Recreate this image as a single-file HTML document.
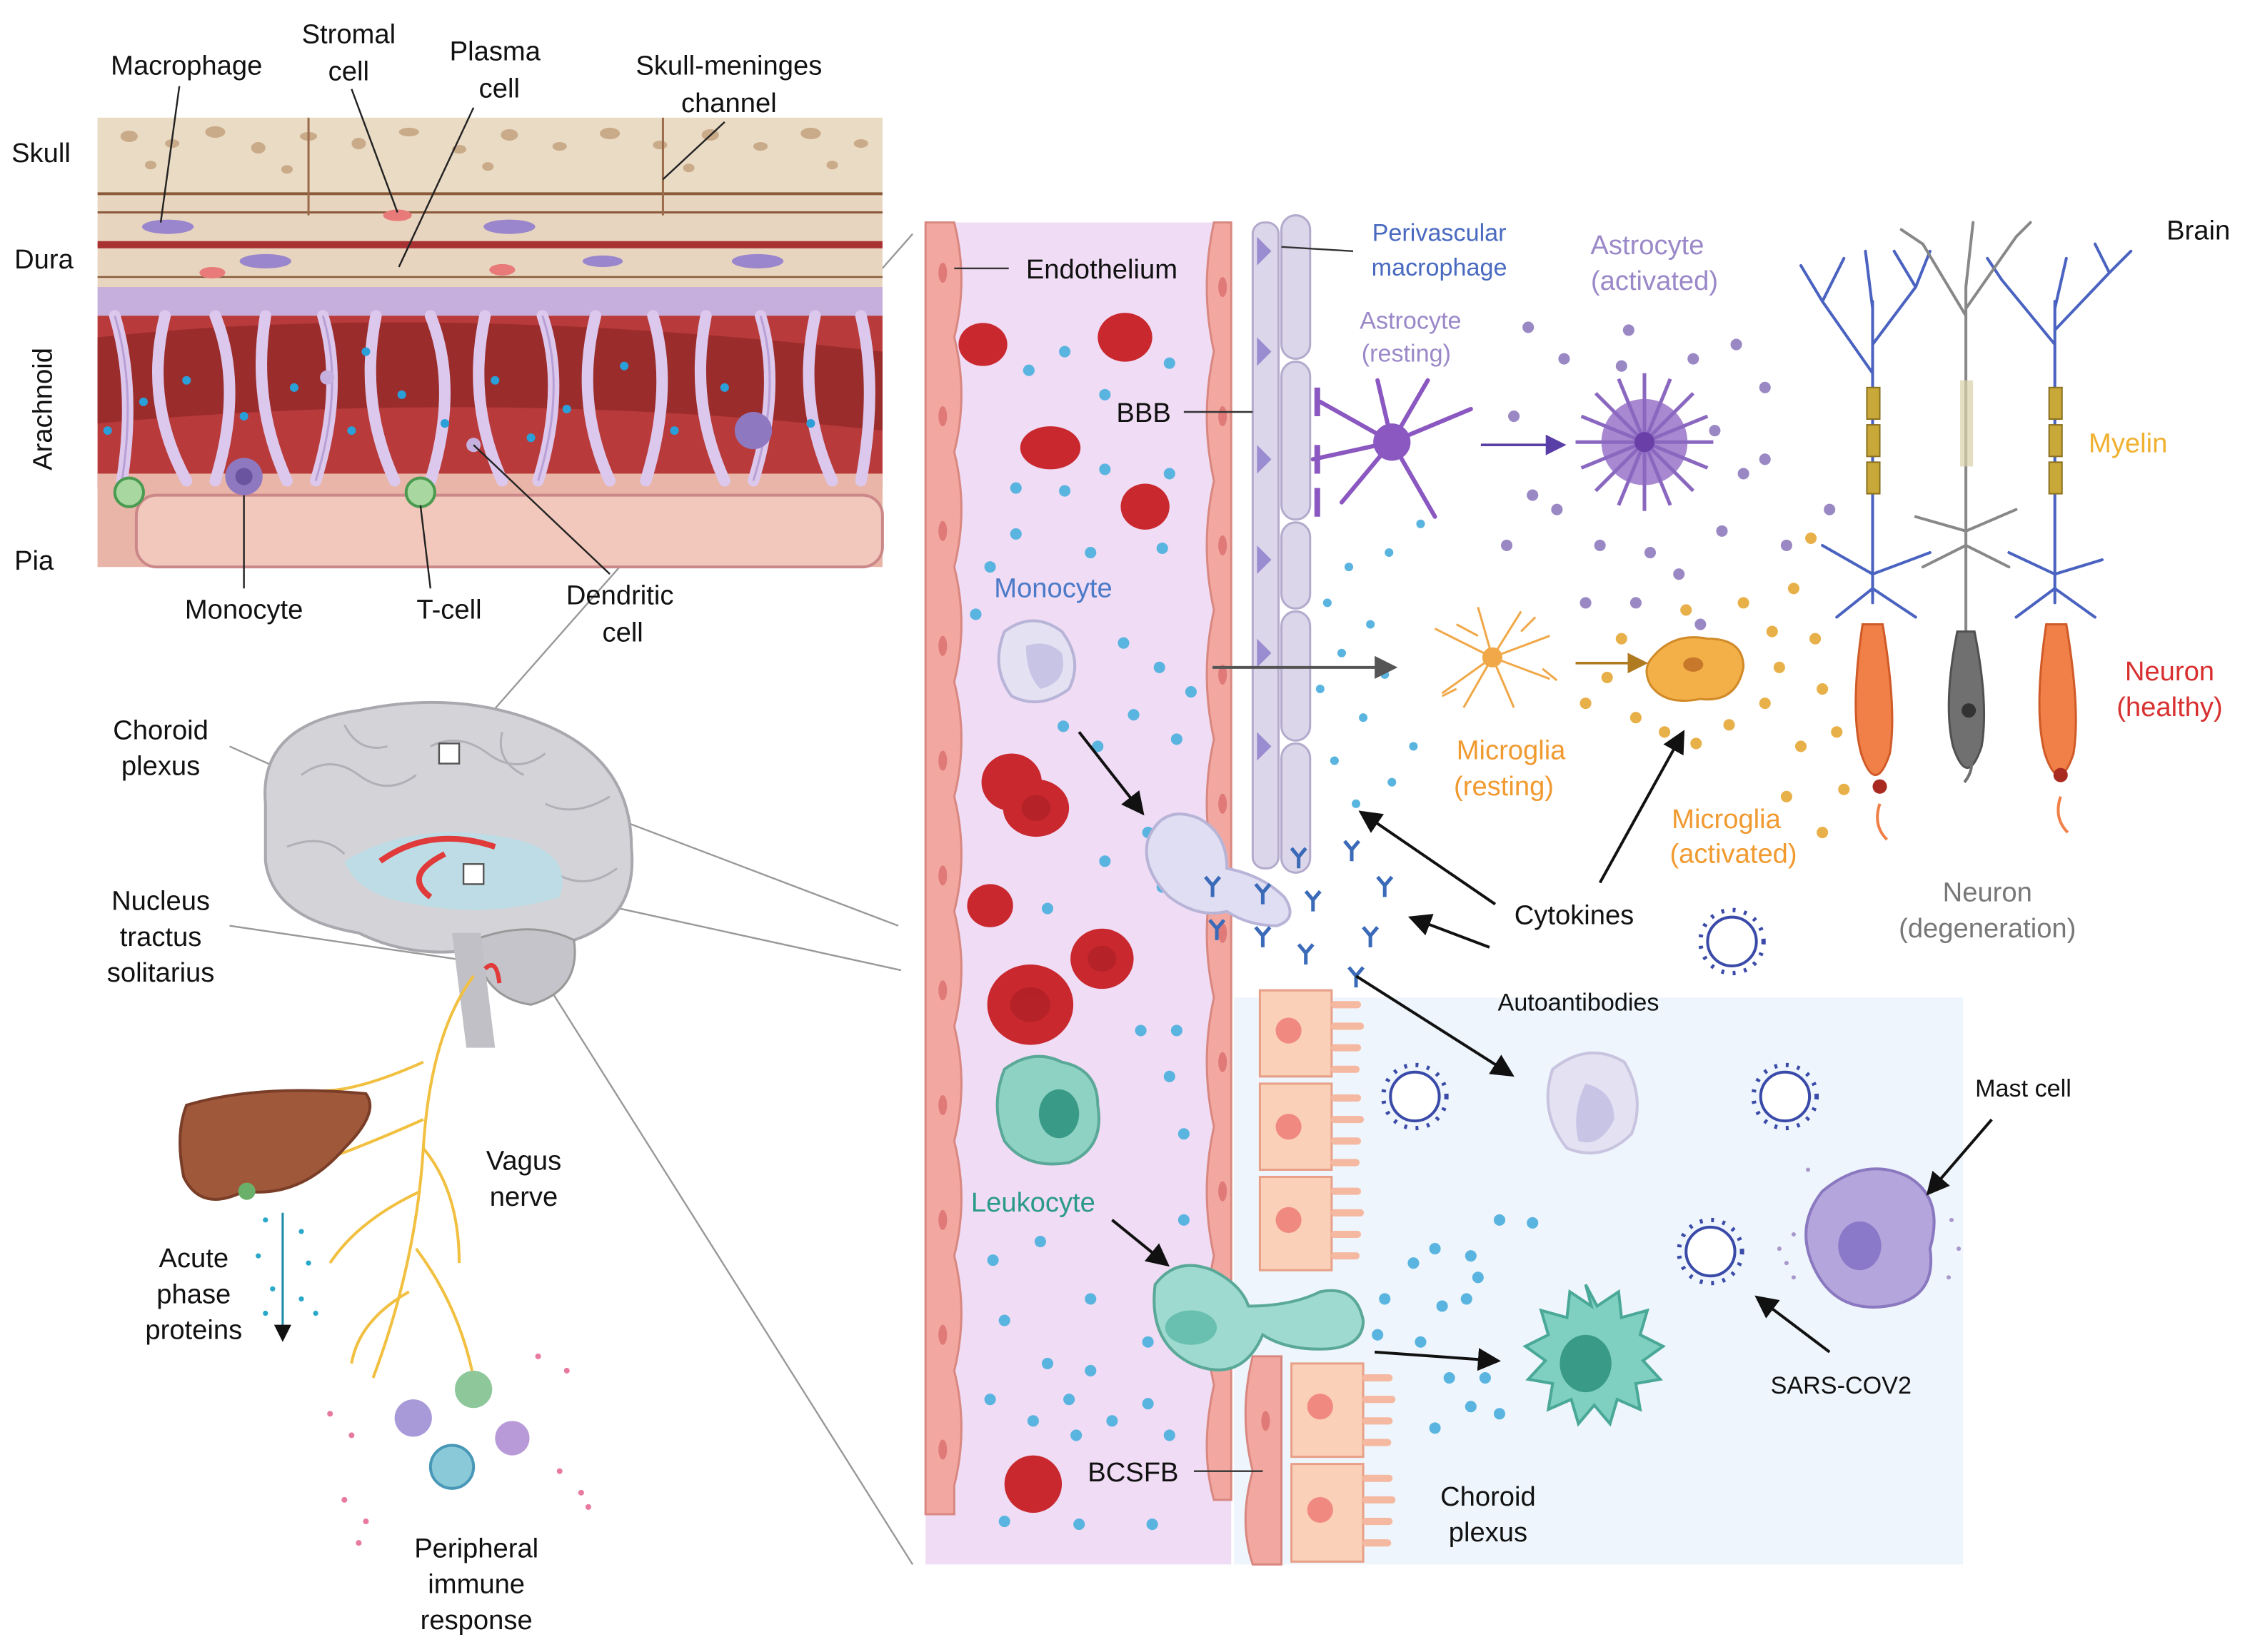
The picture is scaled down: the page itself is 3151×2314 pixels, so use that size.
<!DOCTYPE html>
<html><head><meta charset="utf-8"><style>
html,body{margin:0;padding:0;background:#fff;}
svg{display:block;}
text{font-family:"Liberation Sans",sans-serif;}
</style></head><body>
<svg width="3151" height="2314" viewBox="0 0 1568 1151" preserveAspectRatio="none" xmlns="http://www.w3.org/2000/svg">
<defs>
<marker id="ar" markerWidth="8" markerHeight="8" refX="6" refY="4" orient="auto"><path d="M0,0 L8,4 L0,8 z" fill="#111"/></marker>
<marker id="arp" markerWidth="8" markerHeight="8" refX="6" refY="4" orient="auto"><path d="M0,0 L8,4 L0,8 z" fill="#5a3ea8"/></marker>
<marker id="aro" markerWidth="8" markerHeight="8" refX="6" refY="4" orient="auto"><path d="M0,0 L8,4 L0,8 z" fill="#b07a20"/></marker>
<marker id="arg" markerWidth="8" markerHeight="8" refX="6" refY="4" orient="auto"><path d="M0,0 L8,4 L0,8 z" fill="#555"/></marker>
</defs>

<!-- Connecting gray lines -->
<g stroke="#999" stroke-width="1.2" fill="none">
<line x1="335" y1="505" x2="636" y2="163"/>
<line x1="318" y1="528" x2="626" y2="645"/>
<line x1="336" y1="612" x2="628" y2="676"/>
<line x1="336" y1="614" x2="636" y2="1090"/>
<line x1="290" y1="578" x2="160" y2="520"/>
<line x1="160" y1="645" x2="330" y2="670"/>
</g>

<!-- ===== MENINGES PANEL ===== -->
<rect x="68" y="82" width="547" height="313" fill="#e8d5bf"/>
<rect x="68" y="82" width="547" height="55" fill="#eadbc5"/>
<g fill="#c9ab8a">
<ellipse cx="90" cy="95" rx="6" ry="4"/><ellipse cx="120" cy="100" rx="5" ry="3"/><ellipse cx="150" cy="92" rx="7" ry="4"/><ellipse cx="180" cy="103" rx="5" ry="4"/><ellipse cx="215" cy="95" rx="6" ry="3"/><ellipse cx="250" cy="100" rx="5" ry="4"/><ellipse cx="285" cy="92" rx="7" ry="3"/><ellipse cx="320" cy="104" rx="5" ry="3"/><ellipse cx="355" cy="94" rx="6" ry="4"/><ellipse cx="390" cy="102" rx="5" ry="3"/><ellipse cx="425" cy="93" rx="7" ry="4"/><ellipse cx="460" cy="101" rx="5" ry="3"/><ellipse cx="495" cy="94" rx="6" ry="4"/><ellipse cx="530" cy="102" rx="5" ry="3"/><ellipse cx="565" cy="93" rx="7" ry="4"/><ellipse cx="600" cy="100" rx="5" ry="3"/>
<ellipse cx="105" cy="115" rx="4" ry="3"/><ellipse cx="200" cy="118" rx="4" ry="3"/><ellipse cx="340" cy="116" rx="4" ry="3"/><ellipse cx="480" cy="117" rx="4" ry="3"/><ellipse cx="580" cy="115" rx="4" ry="3"/>
</g>
<line x1="68" y1="135" x2="615" y2="135" stroke="#8a5a3a" stroke-width="2"/>
<line x1="68" y1="148" x2="615" y2="148" stroke="#8a5a3a" stroke-width="1.5"/>
<line x1="215" y1="82" x2="215" y2="150" stroke="#9a6a4a" stroke-width="1.5"/>
<line x1="462" y1="82" x2="462" y2="150" stroke="#9a6a4a" stroke-width="1.5"/>
<rect x="68" y="168" width="547" height="5" fill="#a83232"/>
<line x1="68" y1="193" x2="615" y2="193" stroke="#8a5a3a" stroke-width="1.2"/>
<rect x="68" y="200" width="547" height="20" fill="#c6aedd"/>
<rect x="68" y="220" width="547" height="120" fill="#b83a3a"/>
<path d="M68,235 Q300,210 615,245 L615,300 Q340,270 68,295 Z" fill="#9b2c2c"/>
<rect x="68" y="330" width="547" height="65" fill="#e8b5a8"/>
<rect x="95" y="345" width="520" height="50" rx="14" fill="#f2c8bc" stroke="#c88" stroke-width="2"/>
<g stroke="#dcc8ec" stroke-width="8" fill="none" stroke-linecap="round">
<path d="M80,220 Q95,270 85,335"/><path d="M115,220 Q100,280 130,335"/><path d="M150,220 Q170,270 150,335"/><path d="M185,220 Q175,280 200,335"/><path d="M225,220 Q240,270 220,335"/><path d="M262,220 Q250,280 275,335"/><path d="M300,220 Q320,270 300,335"/><path d="M338,220 Q325,280 350,335"/><path d="M378,220 Q395,270 375,335"/><path d="M415,220 Q400,280 425,335"/><path d="M455,220 Q470,270 450,335"/><path d="M492,220 Q480,280 505,335"/><path d="M530,220 Q545,270 525,335"/><path d="M568,220 Q555,280 580,335"/><path d="M600,220 Q612,270 600,335"/>
</g>
<g stroke="#b89fd5" stroke-width="1.5" fill="none">
<path d="M80,220 Q95,270 85,335"/><path d="M225,220 Q240,270 220,335"/><path d="M378,220 Q395,270 375,335"/><path d="M530,220 Q545,270 525,335"/>
</g>
<g fill="#2a9fd8">
<circle cx="100" cy="280" r="3"/><circle cx="130" cy="265" r="3"/><circle cx="170" cy="290" r="3"/><circle cx="205" cy="270" r="3"/><circle cx="245" cy="300" r="3"/><circle cx="280" cy="275" r="3"/><circle cx="310" cy="295" r="3"/><circle cx="345" cy="265" r="3"/><circle cx="395" cy="285" r="3"/><circle cx="435" cy="255" r="3"/><circle cx="470" cy="300" r="3"/><circle cx="505" cy="270" r="3"/><circle cx="75" cy="300" r="3"/><circle cx="255" cy="245" r="3"/><circle cx="370" cy="305" r="3"/><circle cx="565" cy="295" r="3"/>
</g>
<g fill="#9a86cc"><ellipse cx="117" cy="158" rx="18" ry="5"/><ellipse cx="185" cy="182" rx="18" ry="5"/><ellipse cx="355" cy="158" rx="18" ry="5"/><ellipse cx="528" cy="182" rx="18" ry="5"/><ellipse cx="420" cy="182" rx="14" ry="4"/></g>
<g fill="#e87a7a"><ellipse cx="277" cy="150" rx="10" ry="4"/><ellipse cx="148" cy="190" rx="9" ry="4"/><ellipse cx="350" cy="188" rx="9" ry="4"/></g>
<circle cx="170" cy="332" r="13" fill="#8e78c0"/><circle cx="170" cy="332" r="6" fill="#6a54a0"/>
<circle cx="90" cy="343" r="10" fill="#a8d8a0" stroke="#4a9a50" stroke-width="2"/>
<circle cx="293" cy="343" r="10" fill="#a8d8a0" stroke="#4a9a50" stroke-width="2"/>
<circle cx="525" cy="300" r="13" fill="#8e78c0"/>
<circle cx="228" cy="263" r="5" fill="#c6b0e0"/><circle cx="330" cy="310" r="5" fill="#c6b0e0"/>

<!-- meninges labels -->
<g font-size="19" fill="#111">
<text x="8" y="113">Skull</text>
<text x="10" y="187">Dura</text>
<text x="36" y="285" transform="rotate(-90 36 285)" text-anchor="middle">Arachnoid</text>
<text x="10" y="397">Pia</text>
<text x="130" y="52" text-anchor="middle">Macrophage</text>
<text x="243" y="30" text-anchor="middle">Stromal</text><text x="243" y="56" text-anchor="middle">cell</text>
<text x="345" y="42" text-anchor="middle">Plasma</text><text x="348" y="68" text-anchor="middle">cell</text>
<text x="508" y="52" text-anchor="middle">Skull-meninges</text><text x="508" y="78" text-anchor="middle">channel</text>
<text x="170" y="431" text-anchor="middle">Monocyte</text>
<text x="313" y="431" text-anchor="middle">T-cell</text>
<text x="432" y="421" text-anchor="middle">Dendritic</text><text x="434" y="447" text-anchor="middle">cell</text>
</g>
<g stroke="#222" stroke-width="1.2">
<line x1="125" y1="60" x2="112" y2="155"/><line x1="245" y1="62" x2="277" y2="148"/><line x1="330" y1="75" x2="278" y2="186"/><line x1="505" y1="85" x2="462" y2="125"/>
<line x1="170" y1="410" x2="170" y2="345"/><line x1="300" y1="410" x2="293" y2="352"/><line x1="425" y1="400" x2="330" y2="310"/>
</g>

<!-- ===== BRAIN ===== -->
<path d="M185,560 Q180,505 250,495 Q320,480 380,505 Q440,530 440,590 Q445,640 400,655 Q380,668 340,660 Q290,670 250,650 Q190,640 185,600 Z" fill="#d4d4d8" stroke="#a8a8ae" stroke-width="2"/>
<g stroke="#b0b0b6" stroke-width="1.5" fill="none">
<path d="M210,540 q20,-15 40,0 q20,15 40,0"/><path d="M300,520 q20,-10 40,5 q20,15 40,0"/><path d="M200,590 q25,-10 40,5"/><path d="M380,560 q20,10 45,-5"/><path d="M390,610 q20,10 40,-5"/><path d="M240,505 q10,20 30,15"/><path d="M350,510 q-5,20 15,30"/>
</g>
<path d="M240,600 Q290,570 360,585 Q400,595 390,625 Q340,640 290,630 Q250,625 240,600 Z" fill="#b8dde8" opacity="0.8"/>
<path d="M265,600 Q300,575 345,590" stroke="#e03a3a" stroke-width="4" fill="none"/>
<path d="M300,625 Q280,610 310,595" stroke="#e03a3a" stroke-width="4" fill="none"/>
<path d="M330,655 Q370,640 400,655 Q405,690 370,700 Q335,695 330,655 Z" fill="#c4c4ca" stroke="#999" stroke-width="1.5"/>
<path d="M315,650 L335,650 L345,730 L325,730 Z" fill="#c0c0c6"/>
<path d="M338,675 q8,-8 10,10" stroke="#e03a3a" stroke-width="3" fill="none"/>
<rect x="306" y="518" width="14" height="14" fill="#fff" stroke="#555" stroke-width="1.2"/>
<rect x="323" y="602" width="14" height="14" fill="#fff" stroke="#555" stroke-width="1.2"/>
<g font-size="19" fill="#111" text-anchor="middle">
<text x="112" y="515">Choroid</text><text x="112" y="540">plexus</text>
<text x="112" y="634">Nucleus</text><text x="112" y="659">tractus</text><text x="112" y="684">solitarius</text>
<text x="365" y="815">Vagus</text><text x="365" y="840">nerve</text>
<text x="135" y="883">Acute</text><text x="135" y="908">phase</text><text x="135" y="933">proteins</text>
<text x="332" y="1085">Peripheral</text><text x="332" y="1110">immune</text><text x="332" y="1135">response</text>
</g>
<!-- vagus -->
<g stroke="#f2c040" stroke-width="2" fill="none">
<path d="M330,680 Q300,720 295,800 Q290,880 260,960"/><path d="M295,740 Q250,760 225,760"/><path d="M295,780 Q250,800 220,810"/><path d="M293,830 Q250,850 230,880"/><path d="M290,870 Q320,910 330,960"/><path d="M295,800 Q320,830 320,880"/><path d="M285,900 Q250,920 245,950"/>
</g>
<!-- liver -->
<path d="M130,770 Q180,755 255,762 Q265,775 240,800 Q210,835 170,830 Q140,845 128,820 Q122,790 130,770 Z" fill="#a0583a" stroke="#7a3e28" stroke-width="2"/>
<circle cx="172" cy="830" r="6" fill="#6ab06a"/>
<line x1="197" y1="845" x2="197" y2="932" stroke="#1a8aa8" stroke-width="1.5" marker-end="url(#ar)"/>
<g fill="#2aa8c8"><circle cx="185" cy="850" r="1.8"/><circle cx="210" cy="858" r="1.8"/><circle cx="180" cy="875" r="1.8"/><circle cx="215" cy="880" r="1.8"/><circle cx="190" cy="898" r="1.8"/><circle cx="210" cy="905" r="1.8"/><circle cx="185" cy="915" r="1.8"/><circle cx="220" cy="915" r="1.8"/></g>
<!-- peripheral immune -->
<circle cx="288" cy="988" r="13" fill="#a89ad8"/><circle cx="330" cy="968" r="13" fill="#8ec89a"/><circle cx="357" cy="1002" r="12" fill="#b89ad8"/><circle cx="315" cy="1022" r="15" fill="#8acad8" stroke="#4a98b8" stroke-width="2"/>
<g fill="#e87aa0"><circle cx="230" cy="985" r="2"/><circle cx="245" cy="1000" r="2"/><circle cx="240" cy="1045" r="2"/><circle cx="255" cy="1060" r="2"/><circle cx="390" cy="1025" r="2"/><circle cx="405" cy="1040" r="2"/><circle cx="375" cy="945" r="2"/><circle cx="395" cy="955" r="2"/><circle cx="410" cy="1050" r="2"/><circle cx="250" cy="1075" r="2"/></g>

<!-- ===== MAIN PANEL ===== -->
<rect x="860" y="695" width="508" height="395" fill="#eef5fc"/>
<rect x="645" y="155" width="213" height="935" fill="#f0dcf4"/>
<!-- endothelium left -->
<g fill="#f2a8a0" stroke="#d88880" stroke-width="1.5">
<path d="M645,155 h20 q10,40 0,80 q10,40 0,80 q10,40 0,80 q10,40 0,80 q10,40 0,80 q10,40 0,80 q10,40 0,80 q10,40 0,80 q10,40 0,80 q10,40 0,80 q10,40 0,80 v20 h-20 z"/>
<path d="M858,155 h-12 q-10,45 0,90 q-10,45 0,90 q-10,45 0,90 q-10,45 0,90 q-10,45 0,90 q-10,45 0,90 q-10,45 0,90 q-10,45 0,90 q-10,45 0,90 q-10,45 0,80 h12 z"/>
<path d="M873,945 q-10,40 0,80 q-10,35 0,65 h20 v-145 z"/>
</g>
<g fill="#e07a78"><ellipse cx="657" cy="190" rx="3" ry="7"/><ellipse cx="657" cy="290" rx="3" ry="7"/><ellipse cx="657" cy="370" rx="3" ry="7"/><ellipse cx="657" cy="450" rx="3" ry="7"/><ellipse cx="657" cy="530" rx="3" ry="7"/><ellipse cx="657" cy="610" rx="3" ry="7"/><ellipse cx="657" cy="690" rx="3" ry="7"/><ellipse cx="657" cy="770" rx="3" ry="7"/><ellipse cx="657" cy="850" rx="3" ry="7"/><ellipse cx="657" cy="930" rx="3" ry="7"/><ellipse cx="657" cy="1010" rx="3" ry="7"/>
<ellipse cx="852" cy="200" rx="3" ry="7"/><ellipse cx="852" cy="290" rx="3" ry="7"/><ellipse cx="852" cy="380" rx="3" ry="7"/><ellipse cx="852" cy="470" rx="3" ry="7"/><ellipse cx="852" cy="560" rx="3" ry="7"/><ellipse cx="852" cy="650" rx="3" ry="7"/><ellipse cx="852" cy="740" rx="3" ry="7"/><ellipse cx="852" cy="830" rx="3" ry="7"/><ellipse cx="882" cy="990" rx="3" ry="7"/></g>
<!-- BBB lavender -->
<g fill="#dcd6ea" stroke="#b4aacc" stroke-width="1.5">
<rect x="873" y="155" width="18" height="450" rx="8"/>
<rect x="893" y="150" width="20" height="100" rx="10"/><rect x="893" y="252" width="20" height="110" rx="10"/><rect x="893" y="364" width="20" height="60" rx="10"/><rect x="893" y="426" width="20" height="90" rx="10"/><rect x="893" y="518" width="20" height="90" rx="10"/>
</g>
<g fill="#9a8cd0"><path d="M876,165 l10,10 -10,10z"/><path d="M876,235 l10,10 -10,10z"/><path d="M876,310 l10,10 -10,10z"/><path d="M876,380 l10,10 -10,10z"/><path d="M876,445 l10,10 -10,10z"/><path d="M876,510 l10,10 -10,10z"/></g>
<!-- choroid epithelial cells -->
<g fill="#fbd0b8" stroke="#e8a088" stroke-width="1.5">
<path d="M878,690 h50 v60 h-50 z"/><path d="M878,755 h50 v60 h-50 z"/><path d="M878,820 h50 v65 h-50 z"/>
<path d="M900,950 h50 v65 h-50 z"/><path d="M900,1020 h50 v68 h-50 z"/>
</g>
<g stroke="#f5b8a0" stroke-width="5" stroke-linecap="round">
<path d="M930,700 h16 M930,715 h18 M930,730 h16 M930,745 h15 M930,765 h16 M930,780 h18 M930,795 h16 M930,810 h15 M930,830 h16 M930,845 h18 M930,860 h16 M930,875 h15 M952,960 h16 M952,975 h18 M952,990 h16 M952,1005 h15 M952,1030 h16 M952,1045 h18 M952,1060 h16 M952,1075 h15"/>
</g>
<g fill="#f08a80"><circle cx="898" cy="718" r="9"/><circle cx="898" cy="785" r="9"/><circle cx="898" cy="850" r="9"/><circle cx="920" cy="980" r="9"/><circle cx="920" cy="1052" r="9"/></g>

<!-- RBCs -->
<g fill="#c8282e"><ellipse cx="685" cy="240" rx="17" ry="15"/><ellipse cx="784" cy="235" rx="19" ry="17"/><ellipse cx="732" cy="312" rx="21" ry="15"/><ellipse cx="798" cy="353" rx="17" ry="16"/><ellipse cx="705" cy="545" rx="21" ry="20"/><ellipse cx="722" cy="563" rx="23" ry="20"/><ellipse cx="690" cy="631" rx="16" ry="15"/><ellipse cx="768" cy="668" rx="22" ry="21"/><ellipse cx="718" cy="700" rx="30" ry="28"/><ellipse cx="720" cy="1034" rx="20" ry="20"/></g>
<g fill="#a81e24" opacity="0.6"><ellipse cx="718" cy="700" rx="14" ry="12"/><ellipse cx="722" cy="563" rx="10" ry="9"/><ellipse cx="768" cy="668" rx="10" ry="9"/></g>
<!-- blue dots -->
<g fill="#5ab4e0">
<circle cx="742" cy="245" r="4"/><circle cx="717" cy="258" r="4"/><circle cx="770" cy="275" r="4"/><circle cx="815" cy="253" r="4"/><circle cx="708" cy="340" r="4"/><circle cx="742" cy="342" r="4"/><circle cx="770" cy="327" r="4"/><circle cx="815" cy="330" r="4"/><circle cx="708" cy="372" r="4"/><circle cx="810" cy="382" r="4"/><circle cx="690" cy="395" r="4"/><circle cx="760" cy="385" r="4"/><circle cx="680" cy="428" r="4"/><circle cx="783" cy="448" r="4"/><circle cx="808" cy="465" r="4"/><circle cx="830" cy="482" r="4"/><circle cx="790" cy="498" r="4"/><circle cx="820" cy="515" r="4"/><circle cx="765" cy="520" r="4"/><circle cx="741" cy="506" r="4"/><circle cx="770" cy="600" r="4"/><circle cx="800" cy="580" r="4"/><circle cx="730" cy="633" r="4"/><circle cx="810" cy="618" r="4"/><circle cx="795" cy="718" r="4"/><circle cx="820" cy="718" r="4"/><circle cx="815" cy="750" r="4"/><circle cx="825" cy="790" r="4"/><circle cx="825" cy="850" r="4"/><circle cx="692" cy="878" r="4"/><circle cx="725" cy="865" r="4"/><circle cx="700" cy="920" r="4"/><circle cx="760" cy="905" r="4"/><circle cx="730" cy="950" r="4"/><circle cx="760" cy="955" r="4"/><circle cx="800" cy="935" r="4"/><circle cx="690" cy="975" r="4"/><circle cx="720" cy="990" r="4"/><circle cx="745" cy="975" r="4"/><circle cx="775" cy="990" r="4"/><circle cx="800" cy="978" r="4"/><circle cx="815" cy="1000" r="4"/><circle cx="700" cy="1060" r="4"/><circle cx="752" cy="1062" r="4"/><circle cx="803" cy="1062" r="4"/><circle cx="750" cy="1000" r="4"/>
<circle cx="940" cy="395" r="3"/><circle cx="968" cy="385" r="3"/><circle cx="925" cy="420" r="3"/><circle cx="955" cy="435" r="3"/><circle cx="935" cy="455" r="3"/><circle cx="965" cy="470" r="3"/><circle cx="920" cy="480" r="3"/><circle cx="950" cy="500" r="3"/><circle cx="930" cy="530" r="3"/><circle cx="970" cy="545" r="3"/><circle cx="945" cy="560" r="3"/><circle cx="990" cy="365" r="3"/><circle cx="985" cy="520" r="3"/>
<circle cx="1045" cy="850" r="4"/><circle cx="1068" cy="852" r="4"/><circle cx="985" cy="880" r="4"/><circle cx="1000" cy="870" r="4"/><circle cx="1025" cy="875" r="4"/><circle cx="1005" cy="910" r="4"/><circle cx="1022" cy="905" r="4"/><circle cx="1030" cy="890" r="4"/><circle cx="965" cy="905" r="4"/><circle cx="990" cy="935" r="4"/><circle cx="1010" cy="960" r="4"/><circle cx="1035" cy="960" r="4"/><circle cx="1025" cy="980" r="4"/><circle cx="1000" cy="995" r="4"/><circle cx="1045" cy="985" r="4"/><circle cx="910" cy="915" r="4"/><circle cx="930" cy="905" r="4"/><circle cx="960" cy="930" r="4"/>
</g>
<!-- monocyte in vessel -->
<path d="M700,440 q20,-15 40,0 q15,20 5,40 q-20,15 -40,5 q-15,-20 -5,-45 z" fill="#e4e2f2" stroke="#b8b4d8" stroke-width="2"/>
<path d="M715,450 q15,-5 25,5 q5,20 -15,25 q-10,-10 -10,-30 z" fill="#c8c4e6"/>
<!-- monocyte migrating -->
<path d="M800,585 q10,-25 35,-15 q20,10 20,35 q25,5 40,20 q10,15 -5,20 q-20,0 -35,-10 q-20,5 -40,-10 q-20,-20 -15,-40 z" fill="#e0def2" stroke="#b8b4d8" stroke-width="2"/>
<!-- leukocyte in vessel -->
<path d="M700,745 q20,-15 40,-5 q25,5 25,30 q5,30 -20,40 q-30,5 -45,-15 q-10,-25 0,-50 z" fill="#8ed2c4" stroke="#5aa898" stroke-width="2"/>
<ellipse cx="738" cy="776" rx="14" ry="17" fill="#3a9a88"/>
<!-- leukocyte migrating -->
<path d="M805,895 q15,-20 40,-10 q20,10 25,25 q30,0 50,-10 q25,-5 30,20 q0,20 -30,20 q-25,0 -40,-10 q-15,35 -50,20 q-30,-15 -25,-55 z" fill="#9edad0" stroke="#5aa898" stroke-width="2"/>
<ellipse cx="830" cy="925" rx="18" ry="12" fill="#6ac0b0"/>
<!-- choroid cells -->
<path d="M1082,745 q25,-20 50,-5 q15,25 5,50 q-20,20 -45,10 q-20,-25 -10,-55 z" fill="#e4e2f2" stroke="#c8c4e0" stroke-width="2"/>
<path d="M1105,755 q20,5 20,25 q-10,20 -25,15 q-5,-20 5,-40 z" fill="#c8c4e6"/>
<g fill="#7fd0c0" stroke="#4aa898" stroke-width="2"><path d="M1105,895 l8,15 15,-10 2,18 18,-5 -5,17 16,8 -14,10 12,13 -17,3 3,18 -16,-7 -5,17 -11,-13 -11,13 -5,-17 -16,7 3,-18 -17,-3 12,-13 -14,-10 16,-8 -5,-17 18,5 2,-18 15,10 z"/></g>
<ellipse cx="1105" cy="950" rx="18" ry="20" fill="#3a9a88"/>
<!-- mast cell -->
<path d="M1270,830 q30,-25 60,-10 q25,15 15,50 q5,35 -30,40 q-35,5 -50,-25 q-15,-30 5,-55 z" fill="#b4a6dc" stroke="#8a78c0" stroke-width="2"/>
<ellipse cx="1296" cy="868" rx="15" ry="17" fill="#8a78c8"/>
<g fill="#a898cc"><circle cx="1250" cy="860" r="1.5"/><circle cx="1245" cy="880" r="1.5"/><circle cx="1240" cy="870" r="1.5"/><circle cx="1360" cy="850" r="1.5"/><circle cx="1365" cy="870" r="1.5"/><circle cx="1358" cy="890" r="1.5"/><circle cx="1260" cy="815" r="1.5"/><circle cx="1250" cy="890" r="1.5"/></g>
<!-- viruses -->
<g fill="#fff" stroke="#3a4aa8" stroke-width="2">
<circle cx="1207" cy="656" r="17"/><circle cx="986" cy="764" r="17"/><circle cx="1244" cy="764" r="17"/><circle cx="1192" cy="872" r="17"/>
</g>
<g fill="none" stroke="#3a4aa8" stroke-width="3" stroke-dasharray="2 6">
<circle cx="1207" cy="656" r="22"/><circle cx="986" cy="764" r="22"/><circle cx="1244" cy="764" r="22"/><circle cx="1192" cy="872" r="22"/>
</g>
<!-- antibodies -->
<g stroke="#3a6ab8" stroke-width="2.5" fill="none">
<path d="M905,605 v-8 l-5,-6 M905,597 l5,-6"/><path d="M942,600 v-8 l-5,-6 M942,592 l5,-6"/><path d="M880,630 v-8 l-5,-6 M880,622 l5,-6"/><path d="M915,635 v-8 l-5,-6 M915,627 l5,-6"/><path d="M965,625 v-8 l-5,-6 M965,617 l5,-6"/><path d="M845,625 v-8 l-5,-6 M845,617 l5,-6"/><path d="M955,660 v-8 l-5,-6 M955,652 l5,-6"/><path d="M880,660 v-8 l-5,-6 M880,652 l5,-6"/><path d="M910,672 v-8 l-5,-6 M910,664 l5,-6"/><path d="M945,688 v-8 l-5,-6 M945,680 l5,-6"/><path d="M848,655 v-8 l-5,-6 M848,647 l5,-6"/>
</g>
<!-- astrocytes -->
<g stroke="#8a58c0" stroke-width="3" fill="none" stroke-linecap="round">
<path d="M970,308 L920,280 M970,308 L915,320 M970,308 L935,350 M970,308 L1000,360 M970,308 L1025,285 M970,308 L995,265 M970,308 L960,265"/>
</g>
<g stroke="#8a58c0" stroke-width="4"><line x1="918" y1="270" x2="918" y2="290"/><line x1="918" y1="310" x2="918" y2="330"/><line x1="918" y1="340" x2="918" y2="360"/></g>
<circle cx="970" cy="308" r="13" fill="#8a58c0"/>
<circle cx="1146" cy="308" r="30" fill="#a888d0"/>
<g stroke="#8a68c0" stroke-width="2.5"><path d="M1146,308 l0,-48 M1146,308 l0,48 M1146,308 l48,0 M1146,308 l-48,0 M1146,308 l34,-34 M1146,308 l-34,34 M1146,308 l34,34 M1146,308 l-34,-34 M1146,308 l18,-44 M1146,308 l-18,44 M1146,308 l44,18 M1146,308 l-44,-18 M1146,308 l44,-18 M1146,308 l-44,18 M1146,308 l18,44 M1146,308 l-18,-44"/></g>
<circle cx="1146" cy="308" r="7" fill="#6a40a8"/>
<line x1="1032" y1="310" x2="1088" y2="310" stroke="#5a3ea8" stroke-width="1.8" marker-end="url(#arp)"/>
<g fill="#9a88c4"><circle cx="1065" cy="228" r="4"/><circle cx="1090" cy="250" r="4"/><circle cx="1135" cy="230" r="4"/><circle cx="1180" cy="250" r="4"/><circle cx="1210" cy="240" r="4"/><circle cx="1230" cy="270" r="4"/><circle cx="1195" cy="300" r="4"/><circle cx="1215" cy="330" r="4"/><circle cx="1230" cy="320" r="4"/><circle cx="1055" cy="290" r="4"/><circle cx="1068" cy="345" r="4"/><circle cx="1085" cy="355" r="4"/><circle cx="1050" cy="380" r="4"/><circle cx="1115" cy="380" r="4"/><circle cx="1150" cy="385" r="4"/><circle cx="1170" cy="400" r="4"/><circle cx="1200" cy="370" r="4"/><circle cx="1105" cy="420" r="4"/><circle cx="1140" cy="420" r="4"/><circle cx="1185" cy="435" r="4"/><circle cx="1245" cy="380" r="4"/><circle cx="1275" cy="355" r="4"/><circle cx="1130" cy="255" r="4"/></g>
<!-- microglia -->
<g stroke="#f0a848" stroke-width="1.5" fill="none"><path d="M1040,458 l-40,-20 M1040,458 l-35,25 M1040,458 l-20,35 M1040,458 l15,35 M1040,458 l40,15 M1040,458 l40,-15 M1040,458 l20,-32 M1040,458 l-10,-35 M1030,443 l-15,-8 M1060,440 l10,-10 M1075,466 l10,8 M1015,480 l-10,5"/></g>
<circle cx="1040" cy="458" r="7" fill="#f0a848"/>
<path d="M1150,460 q15,-20 40,-15 q25,0 25,20 q-5,25 -30,22 q-25,5 -35,-10 q-5,-10 0,-17 z" fill="#f4b048" stroke="#d08a28" stroke-width="1.5"/>
<ellipse cx="1180" cy="463" rx="7" ry="5" fill="#c8782a"/>
<line x1="1098" y1="462" x2="1145" y2="462" stroke="#b07a20" stroke-width="1.8" marker-end="url(#aro)"/>
<g fill="#e8b048"><circle cx="1130" cy="445" r="4"/><circle cx="1120" cy="472" r="4"/><circle cx="1105" cy="490" r="4"/><circle cx="1140" cy="500" r="4"/><circle cx="1160" cy="510" r="4"/><circle cx="1182" cy="518" r="4"/><circle cx="1205" cy="505" r="4"/><circle cx="1230" cy="490" r="4"/><circle cx="1240" cy="465" r="4"/><circle cx="1235" cy="440" r="4"/><circle cx="1215" cy="420" r="4"/><circle cx="1250" cy="410" r="4"/><circle cx="1265" cy="445" r="4"/><circle cx="1270" cy="480" r="4"/><circle cx="1255" cy="520" r="4"/><circle cx="1280" cy="510" r="4"/><circle cx="1285" cy="550" r="4"/><circle cx="1270" cy="580" r="4"/><circle cx="1245" cy="555" r="4"/><circle cx="1175" cy="425" r="4"/><circle cx="1262" cy="375" r="4"/></g>
<!-- neurons -->
<g fill="none" stroke-linecap="round">
<g stroke="#4a62c0" stroke-width="2"><path d="M1305,420 V210 M1305,260 L1270,210 L1255,185 M1305,240 L1335,200 L1345,175 M1270,210 L1285,180 M1305,215 L1300,175 M1335,200 L1320,175"/>
<path d="M1305,400 L1270,380 M1305,400 L1345,385 M1305,410 L1280,430 M1305,410 L1335,430"/>
<path d="M1432,420 V210 M1432,240 L1395,195 M1432,230 L1470,190 L1485,175 M1395,195 L1385,180 M1432,215 L1440,180 M1470,190 L1460,170"/>
<path d="M1432,400 L1400,385 M1432,400 L1465,390 M1432,410 L1405,430 M1432,410 L1460,430"/></g>
<g stroke="#888" stroke-width="2"><path d="M1370,480 V200 M1370,220 L1340,170 M1370,215 L1405,165 M1370,200 L1375,155 M1340,170 L1325,160 M1405,165 L1415,155"/>
<path d="M1370,370 L1335,360 M1370,370 L1405,355 M1370,380 L1340,395 M1370,380 L1400,395"/></g>
</g>
<g fill="#c8a838" stroke="#8a7020" stroke-width="1"><rect x="1301" y="270" width="9" height="22"/><rect x="1301" y="296" width="9" height="22"/><rect x="1301" y="322" width="9" height="22"/><rect x="1428" y="270" width="9" height="22"/><rect x="1428" y="296" width="9" height="22"/><rect x="1428" y="322" width="9" height="22"/></g>
<rect x="1366" y="265" width="9" height="60" fill="#d8d0a8" opacity="0.7"/>
<g fill="#f08048" stroke="#d05a28" stroke-width="1.5"><path d="M1298,435 h14 q10,60 5,90 q-10,30 -20,0 q-8,-30 1,-90 z"/><path d="M1426,435 h14 q10,60 5,90 q-10,30 -20,0 q-8,-30 1,-90 z"/></g>
<path d="M1364,440 h12 q10,50 5,80 q-10,30 -20,0 q-7,-30 3,-80 z" fill="#707070" stroke="#505050" stroke-width="1.5"/>
<circle cx="1310" cy="548" r="5" fill="#a82a20"/><circle cx="1436" cy="540" r="5" fill="#a82a20"/><circle cx="1372" cy="495" r="5" fill="#333"/>
<g stroke="#f08048" stroke-width="2" fill="none"><path d="M1310,560 q-5,15 5,25"/><path d="M1436,555 q-5,15 5,25"/></g>
<path d="M1372,525 q5,10 -3,20" stroke="#707070" stroke-width="2" fill="none"/>

<!-- arrows -->
<g stroke="#111" stroke-width="2" fill="none">
<line x1="752" y1="510" x2="795" y2="565" marker-end="url(#ar)"/>
<line x1="775" y1="850" x2="812" y2="880" marker-end="url(#ar)"/>
<line x1="958" y1="942" x2="1042" y2="948" marker-end="url(#ar)"/>
<line x1="945" y1="680" x2="1052" y2="748" marker-end="url(#ar)"/>
<line x1="1042" y1="630" x2="950" y2="567" marker-end="url(#ar)"/>
<line x1="1038" y1="660" x2="985" y2="640" marker-end="url(#ar)"/>
<line x1="1115" y1="615" x2="1172" y2="512" marker-end="url(#ar)"/>
<line x1="1388" y1="780" x2="1345" y2="830" marker-end="url(#ar)"/>
<line x1="1275" y1="942" x2="1226" y2="905" marker-end="url(#ar)"/>
</g>
<line x1="845" y1="465" x2="970" y2="465" stroke="#555" stroke-width="2" marker-end="url(#arg)"/>
<g stroke="#333" stroke-width="1.2"><line x1="665" y1="187" x2="703" y2="187"/><line x1="825" y1="287" x2="873" y2="287"/><line x1="832" y1="1025" x2="880" y2="1025"/><line x1="943" y1="175" x2="893" y2="172"/></g>

<!-- main labels -->
<g font-size="19" fill="#111">
<text x="715" y="194">Endothelium</text>
<text x="778" y="294">BBB</text>
<text x="758" y="1032">BCSFB</text>
<text x="1097" y="644" text-anchor="middle">Cytokines</text>
<text x="1037" y="1049" text-anchor="middle">Choroid</text><text x="1037" y="1074" text-anchor="middle">plexus</text>
<text x="1532" y="167" text-anchor="middle">Brain</text>
</g>
<g font-size="17" fill="#111">
<text x="1100" y="704" text-anchor="middle">Autoantibodies</text>
<text x="1410" y="764" text-anchor="middle">Mast cell</text>
<text x="1283" y="971" text-anchor="middle">SARS-COV2</text>
</g>
<g font-size="17" fill="#4a6ac0" text-anchor="middle"><text x="1003" y="168">Perivascular</text><text x="1003" y="192">macrophage</text></g>
<g font-size="19" text-anchor="middle">
<text x="734" y="416" fill="#4a7ac8">Monocyte</text>
<text x="720" y="844" fill="#2a9a88">Leukocyte</text>
<text x="1148" y="177" fill="#9a88c8">Astrocyte</text><text x="1153" y="202" fill="#9a88c8">(activated)</text>
<text x="983" y="229" fill="#9a88c8" font-size="17">Astrocyte</text><text x="980" y="252" fill="#9a88c8" font-size="17">(resting)</text>
<text x="1053" y="529" fill="#f09a30">Microglia</text><text x="1048" y="554" fill="#f09a30">(resting)</text>
<text x="1203" y="577" fill="#f09a30">Microglia</text><text x="1208" y="601" fill="#f09a30">(activated)</text>
<text x="1483" y="315" fill="#f0b030">Myelin</text>
<text x="1512" y="474" fill="#d83030">Neuron</text><text x="1512" y="499" fill="#d83030">(healthy)</text>
<text x="1385" y="628" fill="#777">Neuron</text><text x="1385" y="653" fill="#777">(degeneration)</text>
</g>
</svg>
</body></html>
